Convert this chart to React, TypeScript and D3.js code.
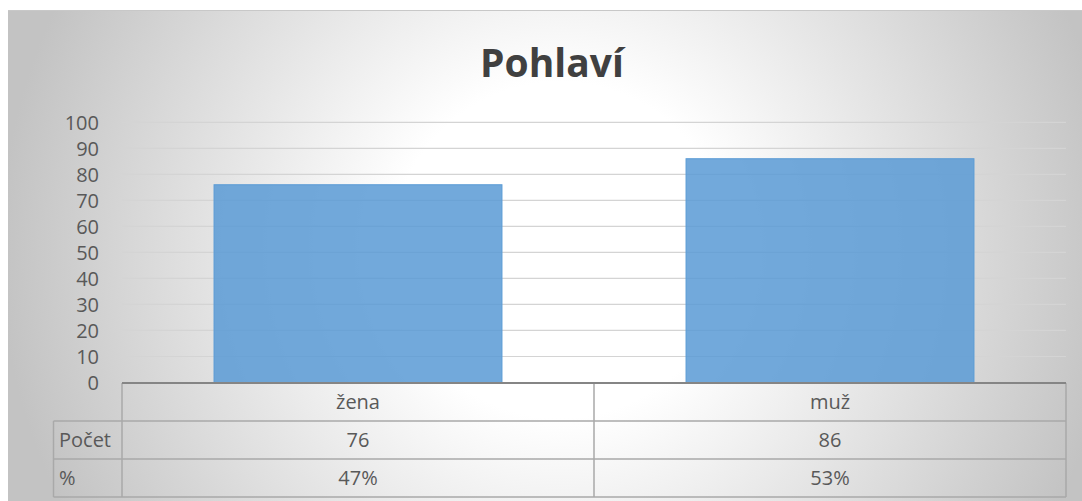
import React from "react";
import * as d3 from "d3";

const title = "Pohlaví";
const categories = ["žena", "muž"];
const counts = [76, 86];
const percents = ["47%", "53%"];
const rowLabels = ["Počet", "%"];
const yTicks = [0, 10, 20, 30, 40, 50, 60, 70, 80, 90, 100];

const W = 1082;
const H = 501;
const plotL = 122;
const plotR = 1066;
const plotT = 122.3;
const plotB = 382.5;
const rowH = 38;
const labelColL = 53.5;
const font = "'Open Sans', 'DejaVu Sans', sans-serif";
const textColor = "#595959";

export default function App() {
  const x = d3.scaleBand<string>().domain(categories).range([plotL, plotR]).paddingInner(0.39).paddingOuter(0.195);
  const xCat = d3.scaleBand<string>().domain(categories).range([plotL, plotR]);
  const y = d3.scaleLinear().domain([0, 100]).range([plotB, plotT]);
  const tableT = plotB + 0.5;
  const rows = [categories, counts.map(String), percents];

  return (
    <svg width={W} height={H} style={{ position: "absolute", left: 0, top: 0, display: "block" }}>
      <defs>
        <radialGradient id="bg" gradientUnits="userSpaceOnUse" cx={560} cy={250} r={560}>
          <stop offset="0" stopColor="#ffffff" />
          <stop offset="0.3" stopColor="#ffffff" />
          <stop offset="1" stopColor="#c3c3c3" />
        </radialGradient>
      </defs>
      <rect x={8} y={10} width={W - 8} height={H - 10} fill="url(#bg)" />
      <line x1={8} x2={W} y1={10.5} y2={10.5} stroke="#c8c8c8" strokeWidth={1} />
      <text x={552} y={76.5} textAnchor="middle" fontFamily={font} fontWeight={700} fontSize={39} fill="#404040">
        {title}
      </text>
      {yTicks.map((t) => (
        <g key={t}>
          {t > 0 && (
            <line x1={plotL} x2={plotR} y1={y(t)} y2={y(t)} stroke="#d4d4d4" strokeWidth={1.2} />
          )}
          <text x={99} y={y(t)} dy="0.36em" textAnchor="end" fontFamily={font} fontSize={20} fill={textColor}>
            {t}
          </text>
        </g>
      ))}
      {categories.map((c, i) => (
        <rect
          key={c}
          x={x(c)}
          y={y(counts[i])}
          width={x.bandwidth()}
          height={y(0) - y(counts[i])}
          fill="#5b9bd5"
          fillOpacity={0.86}
          stroke="#5b9bd5"
          strokeWidth={1}
        />
      ))}
      {/* data table */}
      <g stroke="#a9a9a9" strokeWidth={1.5} fill="none">
        {[1, 2, 3].map((r) => (
          <line key={r} x1={labelColL} x2={plotR} y1={tableT + r * rowH} y2={tableT + r * rowH} />
        ))}
        <line x1={labelColL} x2={labelColL} y1={tableT + rowH} y2={tableT + 3 * rowH} />
        {[plotL, ...categories.map((c) => (xCat(c) as number) + xCat.bandwidth())].map((vx, i) => (
          <line key={i} x1={vx} x2={vx} y1={tableT} y2={tableT + 3 * rowH} />
        ))}
      </g>
      <line x1={plotL} x2={plotR} y1={plotB + 0.5} y2={plotB + 0.5} stroke="#858585" strokeWidth={2} />
      {rows.map((row, r) =>
        row.map((v, i) => (
          <text
            key={r + "-" + i}
            x={(xCat(categories[i]) as number) + xCat.bandwidth() / 2}
            y={tableT + r * rowH + rowH / 2}
            dy="0.36em"
            textAnchor="middle"
            fontFamily={font}
            fontSize={20}
            fill={textColor}
          >
            {v}
          </text>
        ))
      )}
      {rowLabels.map((l, r) => (
        <text
          key={l}
          x={59}
          y={tableT + (r + 1) * rowH + rowH / 2}
          dy="0.36em"
          fontFamily={font}
          fontSize={20}
          fill={textColor}
        >
          {l}
        </text>
      ))}
    </svg>
  );
}
